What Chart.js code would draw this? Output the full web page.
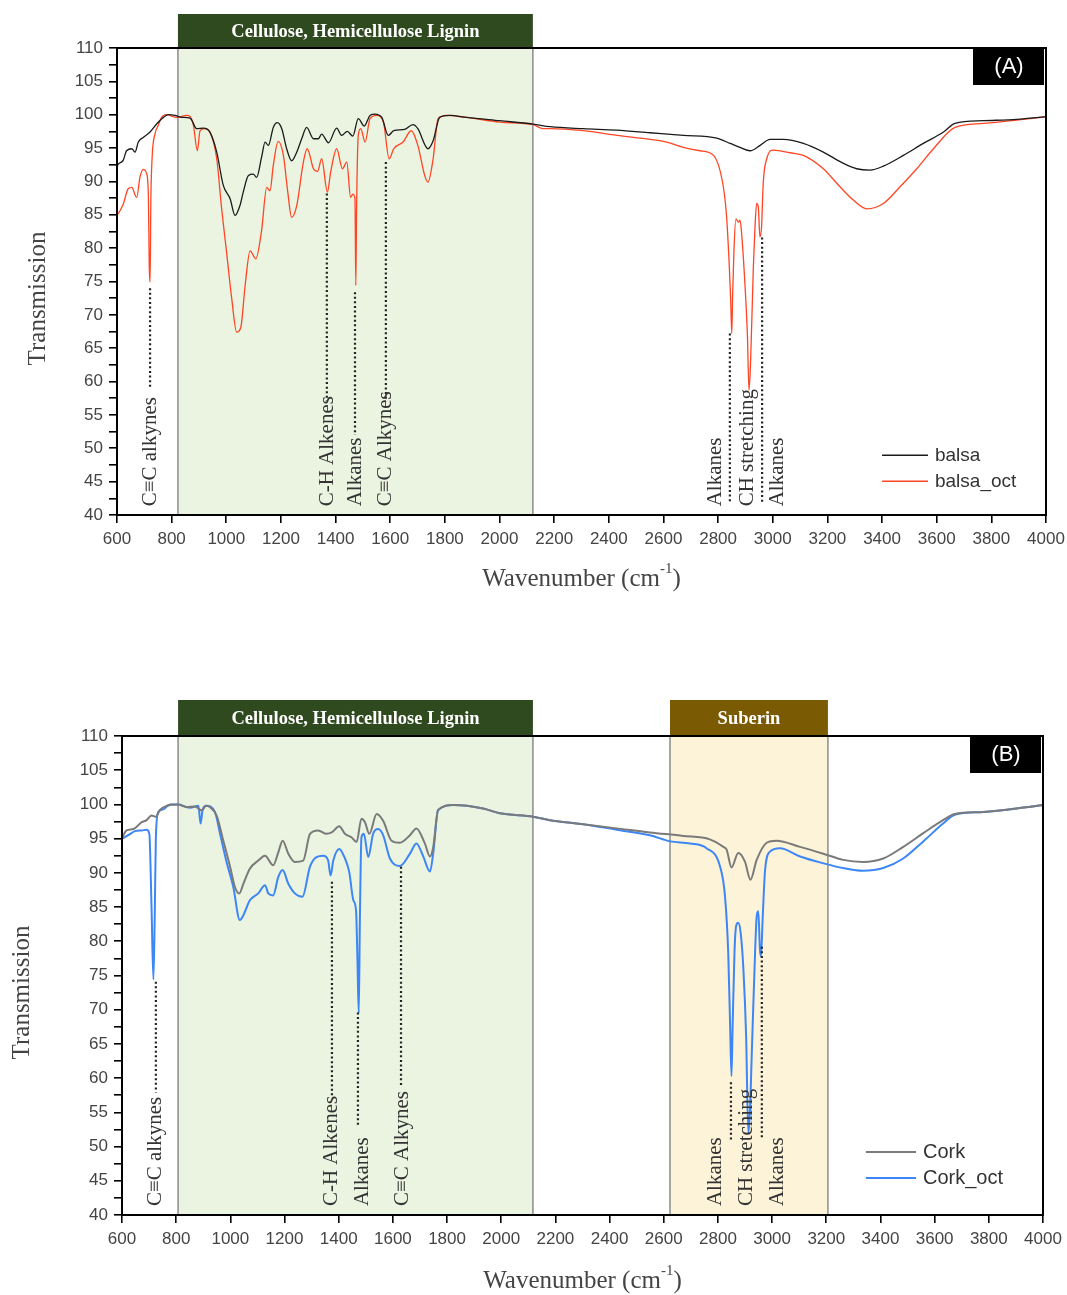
<!DOCTYPE html>
<html>
<head>
<meta charset="utf-8">
<script src="https://cdn.jsdelivr.net/npm/chart.js@4.4.1/dist/chart.umd.min.js"></script>
<style>
  html, body { margin: 0; padding: 0; background: #fff; }
  canvas { display: block; }
</style>
</head>
<body>
<canvas id="chartA" width="1067" height="620"></canvas>
<canvas id="chartB" width="1067" height="675"></canvas>
<script>
// ---- data (wavenumber cm-1 / transmission) ----
const balsaWn = [600, 605, 623, 635, 654, 666, 678, 696, 721, 745, 770, 788, 812, 837, 867, 892, 916, 940, 965, 989, 1014, 1032, 1050, 1062, 1081, 1099, 1111, 1129, 1142, 1154, 1172, 1187, 1203, 1221, 1239, 1258, 1276, 1294, 1319, 1337, 1349, 1374, 1404, 1422, 1443, 1463, 1483, 1505, 1526, 1544, 1569, 1593, 1613, 1653, 1683, 1701, 1738, 1757, 1781, 1818, 1879, 2001, 2123, 2185, 2307, 2429, 2551, 2673, 2795, 2844, 2880, 2917, 2954, 2990, 3039, 3112, 3185, 3259, 3307, 3356, 3405, 3478, 3551, 3625, 3667, 3771, 3893, 4000];
const balsaT = [92.3, 92.6, 93.2, 94.6, 94.9, 94.4, 95.9, 96.6, 97.4, 98.6, 99.6, 100, 99.9, 99.6, 99.5, 97.9, 98.0, 97.4, 94.4, 89.4, 87.4, 84.9, 86.4, 88.4, 90.9, 91.1, 90.6, 93.6, 95.9, 95.4, 98.1, 98.8, 97.9, 94.9, 93.1, 94.4, 96.4, 98.1, 96.4, 96.4, 97.1, 95.8, 98.0, 96.9, 97.5, 96.8, 99.4, 98.3, 99.9, 100.1, 99.6, 96.9, 97.6, 97.8, 98.5, 97.9, 94.9, 96.1, 99.6, 99.9, 99.6, 99.1, 98.6, 98.2, 97.9, 97.7, 97.3, 96.9, 96.5, 95.7, 95.1, 94.6, 95.4, 96.3, 96.3, 95.7, 94.4, 92.7, 91.9, 91.7, 92.3, 93.9, 95.7, 97.4, 98.7, 99.1, 99.3, 99.7];

const balsaOctWn = [600, 605, 623, 641, 654, 672, 684, 696, 709, 715, 718, 721, 724, 729, 739, 751, 763, 782, 818, 855, 879, 894, 904, 922, 940, 965, 983, 1001, 1020, 1038, 1053, 1069, 1087, 1108, 1129, 1148, 1160, 1172, 1190, 1209, 1225, 1239, 1258, 1282, 1296, 1319, 1334, 1349, 1370, 1382, 1404, 1425, 1441, 1455, 1463, 1471, 1474, 1477, 1483, 1492, 1508, 1526, 1550, 1575, 1596, 1613, 1647, 1677, 1701, 1726, 1738, 1757, 1775, 1805, 1879, 2001, 2123, 2159, 2185, 2307, 2429, 2551, 2612, 2673, 2734, 2783, 2819, 2831, 2841, 2846, 2850, 2853, 2858, 2865, 2874, 2880, 2886, 2898, 2907, 2913, 2919, 2929, 2935, 2941, 2947, 2953, 2959, 2965, 2978, 3002, 3063, 3112, 3185, 3246, 3295, 3344, 3405, 3466, 3527, 3588, 3667, 3771, 3893, 4000];
const balsaOctT = [85.0, 85.2, 86.6, 88.9, 89.1, 87.6, 90.6, 91.8, 91.1, 87.4, 77.4, 74.9, 87.4, 93.9, 97.1, 98.4, 99.6, 100, 99.6, 99.9, 98.6, 94.6, 97.6, 97.9, 97.4, 93.4, 85.9, 79.4, 72.4, 67.4, 68.1, 74.4, 79.6, 78.4, 82.6, 89.1, 88.6, 92.4, 96.0, 93.9, 88.4, 84.6, 86.4, 92.9, 94.9, 91.9, 91.5, 93.4, 88.4, 91.4, 94.9, 91.9, 92.9, 87.6, 88.1, 87.4, 74.4, 86.4, 96.9, 97.9, 95.9, 99.4, 99.9, 98.9, 93.4, 94.9, 95.9, 97.6, 95.4, 90.9, 89.9, 93.4, 99.4, 99.9, 99.6, 98.9, 98.5, 97.9, 97.9, 97.6, 96.9, 96.3, 95.9, 95.1, 94.6, 93.9, 89.2, 84.7, 77.2, 72.2, 67.2, 72.7, 79.7, 84.4, 83.9, 84.2, 82.2, 74.7, 67.2, 58.7, 63.2, 77.2, 83.2, 86.7, 86.2, 81.7, 83.2, 89.7, 93.4, 94.7, 94.3, 93.9, 91.9, 89.2, 87.2, 85.9, 86.7, 89.2, 91.9, 94.9, 98.1, 98.7, 99.2, 99.7];

const corkWn = [600, 617, 642, 673, 691, 709, 725, 740, 765, 808, 839, 870, 894, 910, 925, 949, 974, 999, 1017, 1033, 1048, 1072, 1103, 1128, 1158, 1177, 1193, 1214, 1238, 1269, 1294, 1324, 1355, 1374, 1402, 1423, 1447, 1466, 1484, 1497, 1513, 1540, 1564, 1595, 1626, 1663, 1687, 1718, 1737, 1749, 1767, 1823, 1933, 1995, 2118, 2180, 2303, 2426, 2549, 2672, 2770, 2820, 2832, 2850, 2875, 2900, 2920, 2943, 2980, 3016, 3103, 3189, 3262, 3336, 3410, 3484, 3558, 3631, 3674, 3779, 3902, 4000];
const corkT = [95.1, 96.2, 96.4, 97.4, 97.7, 98.4, 98.2, 99.2, 99.8, 100, 99.6, 99.7, 99.1, 99.8, 99.6, 98.4, 94.7, 90.9, 87.9, 87.0, 88.4, 90.6, 91.8, 92.5, 91.1, 93.0, 94.7, 92.8, 91.6, 91.8, 95.7, 96.2, 95.7, 95.9, 96.8, 95.7, 95.2, 94.5, 97.9, 97.4, 95.7, 98.6, 97.6, 94.7, 94.4, 95.5, 96.5, 94.3, 92.4, 93.8, 99.2, 99.9, 99.4, 98.7, 98.2, 97.7, 97.1, 96.5, 95.9, 95.4, 94.9, 93.8, 93.4, 90.8, 92.9, 91.6, 89.0, 91.9, 94.4, 94.7, 93.8, 92.8, 91.9, 91.6, 92.1, 93.8, 95.8, 97.7, 98.6, 98.9, 99.4, 99.9];

const corkOctWn = [600, 623, 648, 673, 691, 701, 709, 716, 721, 725, 734, 753, 777, 808, 851, 882, 890, 898, 912, 943, 962, 986, 1011, 1035, 1048, 1072, 1103, 1128, 1140, 1158, 1177, 1193, 1214, 1238, 1266, 1294, 1318, 1343, 1361, 1370, 1380, 1402, 1423, 1439, 1454, 1464, 1469, 1474, 1478, 1484, 1493, 1509, 1527, 1546, 1564, 1589, 1626, 1663, 1687, 1712, 1737, 1749, 1767, 1823, 1933, 1995, 2118, 2180, 2303, 2426, 2549, 2623, 2697, 2758, 2808, 2826, 2838, 2845, 2850, 2854, 2861, 2867, 2875, 2884, 2894, 2904, 2912, 2918, 2925, 2937, 2943, 2949, 2955, 2959, 2965, 2974, 2992, 3029, 3103, 3189, 3262, 3336, 3410, 3484, 3558, 3631, 3674, 3779, 3902, 4000];
const corkOctT = [95.0, 95.5, 96.1, 96.2, 96.3, 95.7, 85.0, 74.4, 84.1, 95.2, 98.9, 99.3, 100, 100, 99.5, 99.8, 97.2, 99.3, 99.8, 98.9, 95.7, 91.6, 87.9, 83.1, 83.8, 86.0, 87.0, 88.2, 87.0, 86.7, 89.4, 90.4, 88.4, 87.0, 86.5, 90.9, 92.3, 92.5, 91.8, 89.6, 91.8, 93.5, 92.1, 90.1, 86.0, 84.5, 77.7, 69.5, 82.6, 95.2, 95.7, 92.3, 95.7, 96.4, 95.5, 92.1, 91.0, 92.8, 94.3, 92.4, 90.2, 92.9, 99.2, 99.9, 99.4, 98.7, 98.2, 97.7, 97.1, 96.3, 95.5, 94.6, 94.3, 93.6, 90.9, 86.6, 78.3, 67.6, 60.3, 67.1, 78.3, 82.2, 82.7, 81.2, 75.9, 66.2, 52.0, 55.0, 63.7, 78.3, 83.6, 84.4, 78.8, 77.8, 83.2, 90.4, 93.1, 93.6, 92.4, 91.4, 90.7, 90.3, 90.7, 92.1, 94.6, 97.2, 98.5, 98.9, 99.4, 99.9];

// peak annotations: line at wn from top T to bottom T, label centred at labelWn
const peaksA = [
  { text: 'C\u2261C alkynes', wn: 721, top: 74, bottom: 59, labelWn: 721 },
  { text: 'C-H Alkenes', wn: 1368, top: 88.2, bottom: 57.1, labelWn: 1372 },
  { text: 'Alkanes', wn: 1471, top: 73.4, bottom: 52, labelWn: 1471 },
  { text: 'C\u2261C Alkynes', wn: 1584, top: 92.9, bottom: 57, labelWn: 1584 },
  { text: 'Alkanes', wn: 2843, top: 67.2, bottom: 42, labelWn: 2792 },
  { text: 'CH stretching', wn: null, top: 0, bottom: 0, labelWn: 2906 },
  { text: 'Alkanes', wn: 2961, top: 81.6, bottom: 42, labelWn: 3016 }
];
const peaksB = [
  { text: 'C\u2261C alkynes', wn: 725, top: 74.1, bottom: 57.9, labelWn: 725 },
  { text: 'C-H Alkenes', wn: 1375, top: 88.7, bottom: 57.4, labelWn: 1375 },
  { text: 'Alkanes', wn: 1471, top: 69.6, bottom: 53, labelWn: 1486 },
  { text: 'C\u2261C Alkynes', wn: 1630, top: 90.9, bottom: 58.8, labelWn: 1637 },
  { text: 'Alkanes', wn: 2848, top: 59.4, bottom: 50.8, labelWn: 2792 },
  { text: 'CH stretching', wn: null, top: 0, bottom: 0, labelWn: 2907 },
  { text: 'Alkanes', wn: 2962, top: 79.2, bottom: 51.1, labelWn: 3018 }
];

const bandsA = [
  { name: 'Cellulose, Hemicellulose Lignin', from: 823, to: 2122, fill: '#ebf3e1', head: '#2f4a1e' }
];
const bandsB = [
  { name: 'Cellulose, Hemicellulose Lignin', from: 807, to: 2117, fill: '#ebf3e1', head: '#2f4a1e' },
  { name: 'Suberin', from: 2623, to: 3206, fill: '#fdf3d9', head: '#7a5a03' }
];

const toPoints = (wn, t) => wn.map((x, i) => ({ x: x, y: t[i] }));

const SERIF = '"Liberation Serif", "DejaVu Serif", serif';
const SANS = '"Liberation Sans", Arial, sans-serif';

function panelPlugin(o) {
  return {
    id: 'panel' + o.tag,
    beforeDatasetsDraw(chart) {
      const { ctx, chartArea: a, scales: { x } } = chart;
      ctx.save();
      o.bands.forEach(b => {
        const x0 = x.getPixelForValue(b.from);
        const x1 = x.getPixelForValue(b.to);
        ctx.fillStyle = b.fill;
        ctx.fillRect(x0, a.top, x1 - x0, a.bottom - a.top);
        ctx.strokeStyle = '#8c8c8c';
        ctx.lineWidth = 1.5;
        ctx.beginPath();
        ctx.moveTo(x0, a.top); ctx.lineTo(x0, a.bottom);
        ctx.moveTo(x1, a.top); ctx.lineTo(x1, a.bottom);
        ctx.stroke();
        // header box above the plot
        ctx.fillStyle = b.head;
        ctx.fillRect(x0, a.top - o.headH, x1 - x0, o.headH);
        ctx.fillStyle = '#fff';
        ctx.font = 'bold 18.5px ' + SERIF;
        ctx.textAlign = 'center';
        ctx.textBaseline = 'middle';
        ctx.fillText(b.name, (x0 + x1) / 2, a.top - o.headH / 2 + 1);
      });
      ctx.restore();
    },
    afterDatasetsDraw(chart) {
      const { ctx, chartArea: a, scales: { x, y } } = chart;
      ctx.save();

      // dotted peak markers + rotated labels
      ctx.strokeStyle = '#222';
      ctx.lineWidth = 2.2;
      ctx.setLineDash([2, 2.6]);
      o.peaks.forEach(p => {
        if (p.wn === null) return;
        const px = x.getPixelForValue(p.wn);
        ctx.beginPath();
        ctx.moveTo(px, y.getPixelForValue(p.top));
        ctx.lineTo(px, y.getPixelForValue(p.bottom));
        ctx.stroke();
      });
      ctx.setLineDash([]);
      ctx.fillStyle = '#333';
      ctx.font = '21px ' + SERIF;
      ctx.textAlign = 'left';
      ctx.textBaseline = 'middle';
      o.peaks.forEach(p => {
        ctx.save();
        ctx.translate(x.getPixelForValue(p.labelWn), y.getPixelForValue(41.3));
        ctx.rotate(-Math.PI / 2);
        ctx.fillText(p.text, 0, 0);
        ctx.restore();
      });

      // frame
      ctx.strokeStyle = '#000';
      ctx.lineWidth = 2;
      ctx.strokeRect(a.left, a.top, a.right - a.left, a.bottom - a.top);

      // panel tag
      ctx.fillStyle = '#000';
      ctx.fillRect(a.right - 73, a.top + 1, 71, 36);
      ctx.fillStyle = '#fff';
      ctx.font = '22px ' + SANS;
      ctx.textAlign = 'center';
      ctx.fillText('(' + o.tag + ')', a.right - 37, a.top + 19);

      // legend
      chart.data.datasets.forEach((ds, i) => {
        const ly = y.getPixelForValue(o.legend.t[i]);
        const lx0 = x.getPixelForValue(o.legend.from);
        const lx1 = x.getPixelForValue(o.legend.to);
        ctx.strokeStyle = ds.borderColor;
        ctx.lineWidth = o.legend.lw;
        ctx.beginPath();
        ctx.moveTo(lx0, ly); ctx.lineTo(lx1, ly);
        ctx.stroke();
        ctx.fillStyle = '#333';
        ctx.font = o.legend.size + 'px ' + SANS;
        ctx.textAlign = 'left';
        ctx.fillText(ds.label, lx1 + 7, ly);
      });

      // axis titles
      ctx.fillStyle = '#444';
      ctx.font = '25px ' + SERIF;
      ctx.save();
      ctx.translate(o.yTitleX, (a.top + a.bottom) / 2 + 17);
      ctx.rotate(-Math.PI / 2);
      ctx.textAlign = 'center';
      ctx.fillText('Transmission', 0, 0);
      ctx.restore();

      const main = 'Wavenumber (cm';
      ctx.font = '25px ' + SERIF;
      const w1 = ctx.measureText(main).width;
      ctx.font = '15px ' + SERIF;
      const w2 = ctx.measureText('-1').width;
      ctx.font = '25px ' + SERIF;
      const w3 = ctx.measureText(')').width;
      const tx = (a.left + a.right) / 2 - (w1 + w2 + w3) / 2;
      const ty = a.bottom + o.xTitleDy;
      ctx.textAlign = 'left';
      ctx.fillText(main, tx, ty);
      ctx.font = '15px ' + SERIF;
      ctx.fillText('-1', tx + w1, ty - 10);
      ctx.font = '25px ' + SERIF;
      ctx.fillText(')', tx + w1 + w2, ty);
      ctx.restore();
    }
  };
}

function makeChart(id, o) {
  const axisGrid = { drawOnChartArea: false, tickLength: 8, tickColor: '#000', lineWidth: 1.6 };
  return new Chart(document.getElementById(id), {
    type: 'line',
    data: {
      datasets: o.series.map(s => ({
        label: s.label,
        data: toPoints(s.wn, s.t),
        borderColor: s.color,
        borderWidth: s.width,
        pointRadius: 0,
        fill: false,
        cubicInterpolationMode: 'monotone'
      }))
    },
    options: {
      responsive: false,
      animation: false,
      devicePixelRatio: 1,
      layout: { padding: o.padding },
      plugins: { legend: { display: false }, tooltip: { enabled: false } },
      scales: {
        x: {
          type: 'linear', min: 600, max: 4000,
          afterFit: s => { s.height = o.xAxisH; s.paddingLeft = 0; s.paddingRight = 0; },
          ticks: {
            stepSize: 200, autoSkip: false, maxRotation: 0, padding: 6, color: '#444', font: { family: SANS, size: 17 },
            callback: v => String(v)
          },
          grid: axisGrid,
          border: { color: '#000', width: 2 }
        },
        y: {
          min: 40, max: 110,
          afterFit: s => { s.width = o.yAxisW; s.paddingTop = 0; s.paddingBottom = 0; },
          ticks: {
            stepSize: 2.5, autoSkip: false, padding: 6, color: '#444', font: { family: SANS, size: 17 },
            callback: v => (v % 5 === 0 ? String(v) : '')
          },
          grid: axisGrid,
          border: { color: '#000', width: 2 }
        }
      }
    },
    plugins: [panelPlugin(o)]
  });
}

makeChart('chartA', {
  tag: 'A',
  series: [
    { label: 'balsa', wn: balsaWn, t: balsaT, color: '#1a1a1a', width: 1.3 },
    { label: 'balsa_oct', wn: balsaOctWn, t: balsaOctT, color: '#ff4524', width: 1.3 }
  ],
  bands: bandsA,
  peaks: peaksA,
  headH: 34,
  padding: { left: 0, top: 48, right: 21, bottom: 0 },
  yAxisW: 117, xAxisH: 105,
  yTitleX: 38, xTitleDy: 64,
  legend: { from: 3400, to: 3568, t: [48.95, 45.05], lw: 1.5, size: 19 }
});

makeChart('chartB', {
  tag: 'B',
  series: [
    { label: 'Cork', wn: corkWn, t: corkT, color: '#7a7a7a', width: 2 },
    { label: 'Cork_oct', wn: corkOctWn, t: corkOctT, color: '#3c86f6', width: 2 }
  ],
  bands: bandsB,
  peaks: peaksB,
  headH: 36,
  padding: { left: 0, top: 116, right: 24, bottom: 0 },
  yAxisW: 122, xAxisH: 80,
  yTitleX: 22, xTitleDy: 66,
  legend: { from: 3346, to: 3531, t: [49.2, 45.4], lw: 2, size: 20 }
});
</script>
</body>
</html>
